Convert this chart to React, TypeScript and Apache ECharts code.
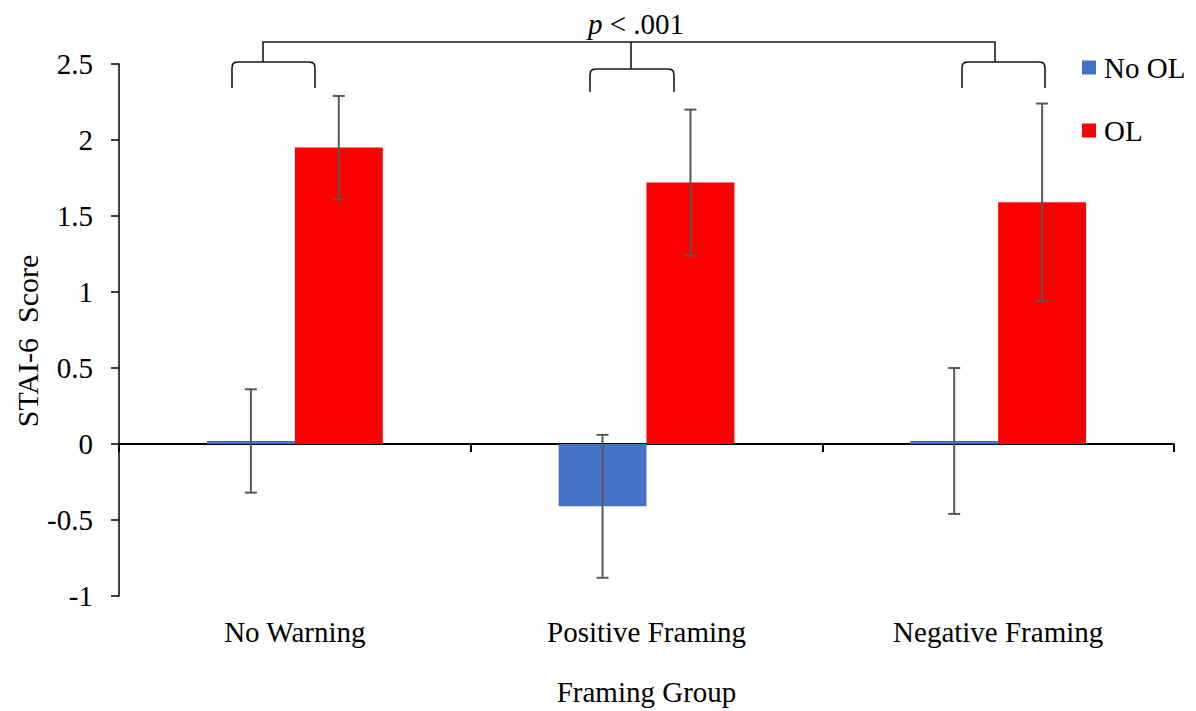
import React, { useEffect, useRef } from "react";
import * as echarts from "echarts";

const categories = ["No Warning", "Positive Framing", "Negative Framing"];
const seriesNames = ["No OL", "OL"];
const noOLValues = [0.02, -0.41, 0.02];
const olValues = [1.95, 1.72, 1.59];
const noOLErrors = [0.34, 0.47, 0.48];
const olErrors = [0.34, 0.48, 0.65];
const yMin = -1;
const yMax = 2.5;
const yInterval = 0.5;

const FONT = "Liberation Serif";
const FS = 29;
const BLUE = "#4472C4";
const RED = "#FF0000";
const ERR = "#595959";

function bracket(x1: number, x2: number, yt: number, yb: number) {
  return {
    type: "polyline",
    shape: {
      points: [
        [x1, yb],
        [x1, yt + 6],
        [x1 + 0.6, yt + 2.5],
        [x1 + 2.5, yt + 0.6],
        [x1 + 6, yt],
        [x2 - 6, yt],
        [x2 - 2.5, yt + 0.6],
        [x2 - 0.6, yt + 2.5],
        [x2, yt + 6],
        [x2, yb],
      ],
    },
    style: { stroke: "#1a1a1a", lineWidth: 1.6, fill: "none" },
  };
}

function errorSeries(name: string, values: number[], errors: number[], sign: number) {
  return {
    type: "custom",
    name,
    xAxisIndex: 0,
    z: 5,
    data: values.map((v, i) => [i, v, errors[i]]),
    encode: { x: 0, y: 1 },
    renderItem: (params: any, api: any) => {
      const i = api.value(0);
      const v = api.value(1);
      const e = api.value(2);
      const band = api.size([1, 0])[0];
      const c = api.coord([i, v]);
      const x = c[0] + (sign * band) / 8;
      const top = api.coord([i, v + e])[1];
      const bot = api.coord([i, v - e])[1];
      const hw = 6;
      const style = { stroke: ERR, lineWidth: 2 };
      return {
        type: "group",
        children: [
          { type: "line", shape: { x1: x, y1: top, x2: x, y2: bot }, style },
          { type: "line", shape: { x1: x - hw, y1: top, x2: x + hw, y2: top }, style },
          { type: "line", shape: { x1: x - hw, y1: bot, x2: x + hw, y2: bot }, style },
        ],
      };
    },
  };
}

export default function App() {
  const ref = useRef<HTMLDivElement>(null);
  useEffect(() => {
    if (!ref.current) return;
    const chart = echarts.init(ref.current, undefined, { renderer: "svg" });
    chart.setOption({
      animation: false,
      backgroundColor: "#ffffff",
      textStyle: { fontFamily: FONT, color: "#000" },
      grid: { left: 119, right: 22, top: 64, bottom: 115, containLabel: false },
      legend: {
        data: seriesNames,
        orient: "vertical",
        left: 1077,
        top: 48,
        itemWidth: 14,
        itemHeight: 14,
        itemGap: 34,
        icon: "rect",
        textStyle: { fontSize: FS, fontFamily: FONT, color: "#000", padding: [0, 0, 0, 3] },
      },
      xAxis: [
        {
          type: "category",
          data: categories,
          position: "bottom",
          axisLine: { show: true, onZero: true, lineStyle: { color: "#000", width: 2 } },
          axisTick: { show: true, length: 8, lineStyle: { color: "#000", width: 2 } },
          axisLabel: { show: false },
          splitLine: { show: false },
        },
        {
          type: "category",
          data: categories,
          position: "bottom",
          axisLine: { show: false, onZero: false },
          axisTick: { show: false },
          axisLabel: { show: true, fontSize: FS, fontFamily: FONT, color: "#000", margin: 21 },
          splitLine: { show: false },
          name: "Framing Group",
          nameLocation: "middle",
          nameGap: 81,
          nameTextStyle: { fontSize: FS, fontFamily: FONT, color: "#000" },
        },
      ],
      yAxis: {
        type: "value",
        min: yMin,
        max: yMax,
        interval: yInterval,
        axisLine: { show: true, lineStyle: { color: "#000", width: 1.5 } },
        axisTick: { show: true, length: 8, lineStyle: { color: "#000", width: 1.5 } },
        axisLabel: { fontSize: FS, fontFamily: FONT, color: "#000", margin: 26 },
        splitLine: { show: false },
      },
      series: [
        {
          type: "bar",
          name: seriesNames[0],
          xAxisIndex: 0,
          data: noOLValues,
          itemStyle: { color: BLUE },
          barGap: "0%",
          barCategoryGap: "50%",
        },
        {
          type: "bar",
          name: seriesNames[1],
          xAxisIndex: 0,
          data: olValues,
          itemStyle: { color: RED },
          barGap: "0%",
          barCategoryGap: "50%",
        },
        errorSeries("errNoOL", noOLValues, noOLErrors, -1),
        errorSeries("errOL", olValues, olErrors, 1),
      ],
      graphic: [
        {
          type: "text",
          x: 27,
          y: 341,
          rotation: Math.PI / 2,
          style: {
            text: "STAI-6  Score",
            fontSize: 30,
            fontFamily: FONT,
            fill: "#000",
            align: "center",
            verticalAlign: "middle",
          },
        },
        {
          type: "text",
          x: 636,
          y: 24,
          style: {
            text: "{i|p} < .001",
            fontSize: FS,
            fontFamily: FONT,
            fill: "#000",
            align: "center",
            verticalAlign: "middle",
            rich: {
              i: { fontStyle: "italic", fontSize: FS, fontFamily: FONT, fill: "#000" },
            },
          },
        },
        {
          type: "polyline",
          shape: { points: [[263, 62], [263, 42], [995, 42], [995, 62]] },
          style: { stroke: "#1a1a1a", lineWidth: 1.6, fill: "none" },
        },
        {
          type: "line",
          shape: { x1: 631, y1: 42, x2: 631, y2: 69 },
          style: { stroke: "#1a1a1a", lineWidth: 1.6 },
        },
        bracket(232, 315, 62, 88),
        bracket(590, 674, 69, 92),
        bracket(962, 1045, 62, 88),
      ],
    });
    return () => chart.dispose();
  }, []);
  return (
    <div
      ref={ref}
      style={{ position: "fixed", left: 0, top: 0, width: 1196, height: 711, background: "#fff" }}
    />
  );
}
